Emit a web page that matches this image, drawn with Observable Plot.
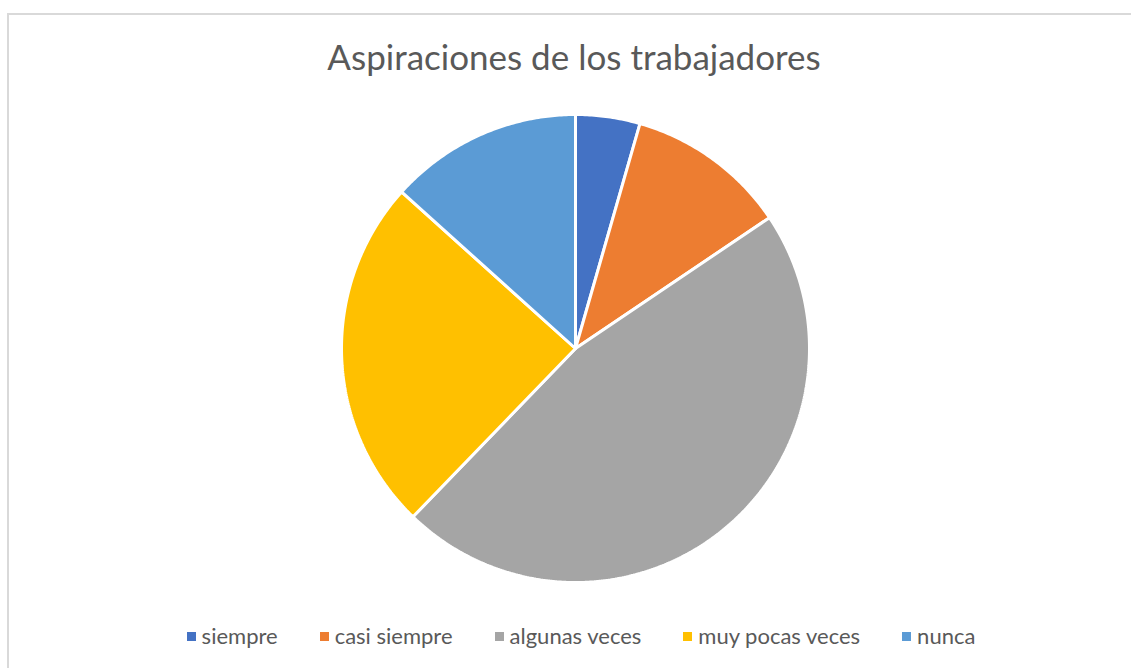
<!DOCTYPE html>
<html>
<head>
<meta charset="utf-8">
<script src="https://cdn.jsdelivr.net/npm/d3@7"></script>
<script src="https://cdn.jsdelivr.net/npm/@observablehq/plot@0.6"></script>
<style>
  html, body { margin: 0; padding: 0; background: #fff; }
  #wrap { position: relative; width: 1131px; height: 668px; overflow: hidden; font-family: Lato, "Open Sans", sans-serif; color: #595959; }
  #frame { position: absolute; left: 7px; top: 13px; width: 1200px; height: 700px; border-left: 2px solid #d9d9d9; border-top: 2px solid #d9d9d9; }
  #title { position: absolute; left: 0; width: 1148px; top: 36px; text-align: center; font-size: 35px; line-height: 40px; }
  #chart { position: absolute; left: 0; top: 98px; }
  #legend { position: absolute; left: 0; width: 1162px; top: 623px; display: flex; justify-content: center; font-size: 22px; line-height: 26px; }
  .item { display: flex; align-items: center; margin: 0 21px; }
  .sw { width: 9px; height: 9px; margin-right: 6px; }
</style>
</head>
<body>
<div id="wrap">
  <div id="frame"></div>
  <div id="title"></div>
  <div id="chart"></div>
  <div id="legend"></div>
</div>
<script>
const title = "Aspiraciones de los trabajadores";
const categories = ["siempre", "casi siempre", "algunas veces", "muy pocas veces", "nunca"];
const counts = [2, 5, 21, 11, 6];
const colors = ["#4472C4", "#ED7D31", "#A5A5A5", "#FFC000", "#5B9BD5"];

document.getElementById("title").textContent = title;

const arcs = d3.pie().sort(null)(counts);
const pts = [];
arcs.forEach((a, i) => {
  const cat = categories[i];
  pts.push({cat, x: 0, y: 0});
  const n = Math.max(2, Math.ceil((a.endAngle - a.startAngle) / 0.01));
  for (let k = 0; k <= n; k++) {
    const t = a.startAngle + (a.endAngle - a.startAngle) * k / n;
    pts.push({cat, x: Math.sin(t), y: Math.cos(t)});
  }
  pts.push({cat, x: 0, y: 0});
});

const chart = Plot.plot({
  width: 1131,
  height: 500,
  x: {domain: [-1, 1], range: [341, 809], axis: null},
  y: {domain: [-1, 1], range: [484, 16], axis: null},
  color: {domain: categories, range: colors},
  marks: [
    Plot.line(pts, {x: "x", y: "y", z: "cat", fill: "cat", stroke: "white", strokeWidth: 3, strokeLinejoin: "miter", curve: "linear"})
  ]
});
document.getElementById("chart").appendChild(chart);

const legend = document.getElementById("legend");
categories.forEach((c, i) => {
  const it = document.createElement("div");
  it.className = "item";
  const sw = document.createElement("span");
  sw.className = "sw";
  sw.style.background = colors[i];
  const tx = document.createElement("span");
  tx.textContent = c;
  it.appendChild(sw); it.appendChild(tx);
  legend.appendChild(it);
});
</script>
</body>
</html>
